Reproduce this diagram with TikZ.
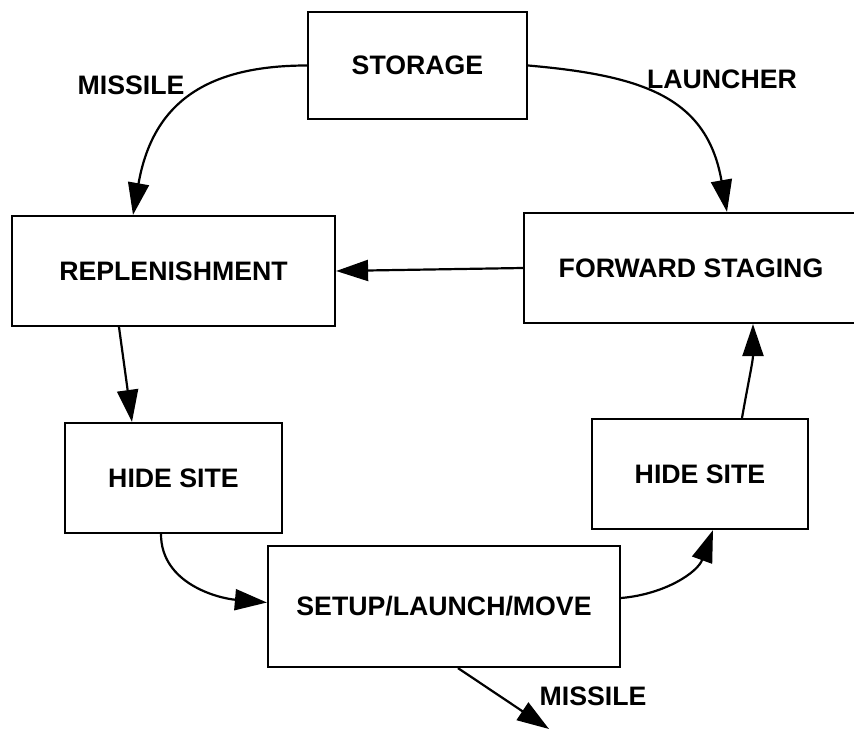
\documentclass[tikz,border=0pt]{standalone}
\usepackage{fontspec}
\setmainfont{Liberation Sans}
\usetikzlibrary{arrows.meta}
\tikzset{
>={Triangle[length=32pt,width=21pt]}, % big filled heads as in the drawing
x=1pt, y=-1pt, % one unit is one pixel of the drawing, y runs downwards
every edge/.style={draw, ->, line width=2.2pt}, % heavy directed connectors
every node/.style={font=\bfseries\fontsize{26.7}{30}\selectfont}, % Arial-like bold caps
box/.style={draw, line width=2.2pt, inner sep=0pt}, % the plain rectangles
}

\begin{document}
\begin{tikzpicture}
        \useasboundingbox (0,0) rectangle (854,730);

        \node[box, minimum width=219pt, minimum height=107pt] (storage) at (417.5,65.5) {STORAGE};
        \node[box, minimum width=323pt, minimum height=110pt] (replen) at (173.5,271) {REPLENISHMENT};
        \node[box, minimum width=334pt, minimum height=110pt] (fwd) at (691,268) {FORWARD STAGING};
        \node[box, minimum width=217pt, minimum height=110pt] (hide1) at (173.5,478) {HIDE SITE};
        \node[box, minimum width=216pt, minimum height=110pt] (hide2) at (700,474) {HIDE SITE};
        \node[box, minimum width=352pt, minimum height=121pt] (setup) at (444,606.5) {SETUP/LAUNCH/MOVE};

        \node (missile1) at (131,85) {MISSILE};
        \node (launcher) at (722,79) {LAUNCHER};
        \node (missile2) at (593,696) {MISSILE};
        \coordinate (gone) at (549,729);

        \path (storage.west) edge[out=180, in=80, looseness=1.2] ([xshift=-40.5pt]replen.north)
              (storage.east) edge[out=-5, in=100, looseness=1.2] ([xshift=36pt]fwd.north)
              (fwd.west) edge (replen.east)
              ([xshift=-54.5pt]replen.south) edge ([xshift=-41.5pt]hide1.north);
        \path ([xshift=-12.5pt]hide1.south) edge[out=-90, in=175] ([yshift=4pt]setup.west)
              ([yshift=8.5pt]setup.east) edge[out=5, in=-110] ([xshift=13pt]hide2.south)
              ([xshift=42pt]hide2.north) edge[out=80, in=-90] ([xshift=62pt]fwd.south)
              ([xshift=14pt]setup.south) edge (gone);
    \end{tikzpicture}
\end{document}
